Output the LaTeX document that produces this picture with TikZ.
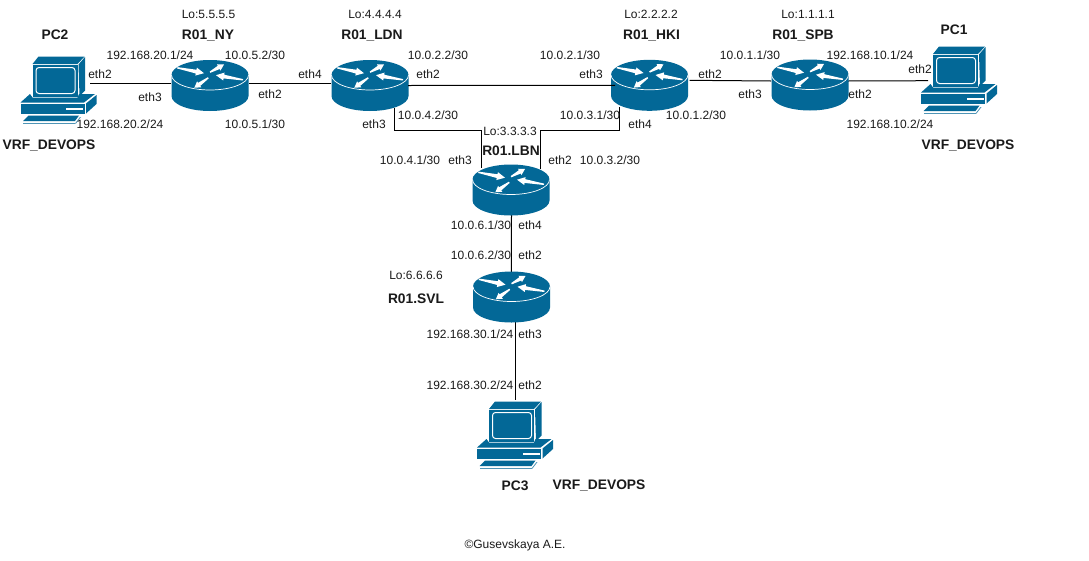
\documentclass[tikz,border=0pt]{standalone}
\usepackage{fontspec}
\setmainfont{Liberation Sans}
\usetikzlibrary{calc}
\definecolor{cisco}{HTML}{036897}
\definecolor{txt}{HTML}{1A1A1A}
\newcommand{\rarr}[6]{%
  \coordinate (A) at (#1,#2);
  \coordinate (B) at (#3,#4);
  \coordinate (M) at ($(B)!#5pt!(A)$);
  \fill[white] ($(A)!.7pt!90:(B)$) -- ($(M)!1.9pt!90:(B)$) -- ($(M)!#6pt!90:(B)$) -- (B) -- ($(M)!#6pt!-90:(B)$) -- ($(M)!1.9pt!-90:(B)$) -- ($(A)!.7pt!-90:(B)$) -- cycle;
}
\tikzset{
  lbl/.style={inner sep=0pt,text=txt,font=\fontsize{12}{14}\selectfont},
  blbl/.style={inner sep=0pt,text=txt,font=\fontsize{13.8}{15}\selectfont\bfseries},
  link/.style={draw=black,line width=1pt},
  routerbox/.style={inner sep=0pt,minimum width=77pt,minimum height=51pt},
  pcbox/.style={inner sep=0pt,minimum width=77pt,minimum height=70pt},
  router/.pic={
    \fill[cisco] (-38.5,-10.5) -- (-38.5,10.5) arc[start angle=180,end angle=360,x radius=38.5pt,y radius=15pt] -- (38.5,-10.5) arc[start angle=0,end angle=180,x radius=38.5pt,y radius=15pt] -- cycle;
    \draw[white,line width=.7pt] (-38.5,-10.5) arc[start angle=180,end angle=360,x radius=38.5pt,y radius=15pt];
    \rarr{-32.7}{-17.7}{-6}{-12.3}{8}{4}
    \rarr{33}{-5.7}{6}{-10.3}{8}{4}
    \rarr{0}{-13.3}{14}{-21}{6}{3.6}
    \rarr{-1.7}{-7.7}{-15.7}{2.3}{6}{3.6}
  },
  pc/.pic={
    % monitor
    \fill[cisco] (-26.5,-26) -- (-20.5,-33.5) -- (25.5,-33.5) -- (18.5,-26) -- cycle;
    \fill[cisco] (19.5,-25.5) -- (26,-33) -- (26,0.5) -- (20.5,6) -- cycle;
    \fill[cisco] (-26.5,-25) rectangle (18.5,6.5);
    \draw[white,line width=1pt,rounded corners=3pt] (-23,-22.5) rectangle (16,3.5);
    % base
    \fill[cisco] (-38.5,12.5) -- (-29,4) -- (-26.5,7.5) -- (18.5,7.5) -- (20,4) -- (36,4) -- (25,12.5) -- cycle;
    \fill[cisco] (-38.5,14) rectangle (25.5,23.5);
    \fill[cisco] (27,13.5) -- (37.5,5) -- (37.5,14) -- (27,23.5) -- cycle;
    \fill[white] (7,18) rectangle (24,20);
    % keyboard
    \fill[cisco] (-30.5,25.5) -- (20,25.5) -- (16,31) -- (-36,31) -- cycle;
    \fill[cisco!70] (-36,32.5) rectangle (16,33.5);
    \fill[cisco!70] (16,33.5) -- (21,27) -- (22,27) -- (17,33.5) -- cycle;
  }
}
\begin{document}
\begin{tikzpicture}[x=1pt,y=-1pt]
\useasboundingbox[fill=white] (0,0) rectangle (1089,560);
% device nodes
\node[routerbox] (ny) at (210,85.5) {};
\node[routerbox] (ldn) at (370,85.5) {};
\node[routerbox] (hki) at (649.5,85.3) {};
\node[routerbox] (spb) at (810,85) {};
\node[routerbox] (lbn) at (511,190) {};
\node[routerbox] (svl) at (511.5,297) {};
\node[pcbox] (pc2) at (59,90) {};
\node[pcbox] (pc1) at (959.5,80) {};
\node[pcbox] (pc3) at (515.5,435) {};
% connectors under the devices
\draw[link] ($(pc2)+(31,-7)$) -- ($(ny)+(-39,-2.5)$);
\draw[link] ($(ny)+(39,-2.5)$) -- ($(ldn)+(-39,-2.5)$);
\draw[link] ($(hki)+(40,-5)$) -- ($(spb)+(-39,-4)$);
\draw[link] ($(spb)+(38,-4)$) -- ($(pc1)+(-31.5,.7)$);
\draw[link] ($(ldn)+(24,22)$) |- ($(lbn)+(-30,-60)$) -- ($(lbn)+(-30,-22)$);
\draw[link] ($(hki)+(-30,22)$) |- ($(lbn)+(29,-60)$) -- ($(lbn)+(29,-21)$);
\draw[link] ($(lbn)+(.5,25)$) -- ($(svl)+(-.2,-25)$);
\draw[link] ($(svl)+(4.2,25)$) -- ($(pc3)+(.2,-35)$);
% device drawings
\pic at (ny) {router};
\pic at (ldn) {router};
\pic at (hki) {router};
\pic at (spb) {router};
\pic at (lbn) {router};
\pic at (svl) {router};
\pic at (pc2) {pc};
\pic at (pc1) {pc};
\pic at (pc3) {pc};
% this link runs over the edge of R01_HKI
\draw[link] ($(ldn)+(38,0)$) -- ($(hki)+(-34.5,0)$);
% labels
\node[lbl] (t1) at (208.5,14) {Lo:5.5.5.5};
\node[blbl] (t2) at (208,36) {R01\_NY};
\node[blbl] (t3) at (55,35) {PC2};
\node[lbl] (t4) at (150,55) {192.168.20.1/24};
\node[lbl] (t5) at (255,55) {10.0.5.2/30};
\node[lbl] (t6) at (100,74) {eth2};
\node[lbl] (t7) at (150,97) {eth3};
\node[lbl] (t8) at (270,94) {eth2};
\node[lbl] (t9) at (120,124) {192.168.20.2/24};
\node[lbl] (t10) at (255,124) {10.0.5.1/30};
\node[blbl] (t11) at (49,146) {VRF\_DEVOPS};
\node[lbl] (t12) at (375,14) {Lo:4.4.4.4};
\node[blbl] (t13) at (372,36) {R01\_LDN};
\node[lbl] (t14) at (310,74) {eth4};
\node[lbl] (t15) at (438,55) {10.0.2.2/30};
\node[lbl] (t16) at (428,74) {eth2};
\node[lbl] (t17) at (374,124) {eth3};
\node[lbl] (t18) at (428,115) {10.0.4.2/30};
\node[lbl] (t19) at (510,131) {Lo:3.3.3.3};
\node[blbl] (t20) at (511,151) {R01.LBN};
\node[lbl] (t21) at (410,160) {10.0.4.1/30};
\node[lbl] (t22) at (460,160) {eth3};
\node[lbl] (t23) at (560,160) {eth2};
\node[lbl] (t24) at (610,160) {10.0.3.2/30};
\node[lbl] (t25) at (590,115) {10.0.3.1/30};
\node[lbl] (t26) at (640,124) {eth4};
\node[lbl] (t27) at (696,115) {10.0.1.2/30};
\node[lbl] (t28) at (570,55) {10.0.2.1/30};
\node[lbl] (t29) at (591,74) {eth3};
\node[lbl] (t30) at (651,14) {Lo:2.2.2.2};
\node[blbl] (t31) at (651.5,36) {R01\_HKI};
\node[lbl] (t32) at (710,74) {eth2};
\node[lbl] (t33) at (750,55) {10.0.1.1/30};
\node[lbl] (t34) at (750,94) {eth3};
\node[lbl] (t35) at (808,14) {Lo:1.1.1.1};
\node[blbl] (t36) at (803,36) {R01\_SPB};
\node[lbl] (t37) at (870,55) {192.168.10.1/24};
\node[lbl] (t38) at (920,69) {eth2};
\node[lbl] (t39) at (860,94) {eth2};
\node[lbl] (t40) at (890,124) {192.168.10.2/24};
\node[blbl] (t41) at (954,30) {PC1};
\node[blbl] (t42) at (968,146) {VRF\_DEVOPS};
\node[lbl] (t43) at (481,225) {10.0.6.1/30};
\node[lbl] (t44) at (530,225) {eth4};
\node[lbl] (t45) at (481,255) {10.0.6.2/30};
\node[lbl] (t46) at (530,255) {eth2};
\node[lbl] (t47) at (416,275) {Lo:6.6.6.6};
\node[blbl] (t48) at (416,299) {R01.SVL};
\node[lbl] (t49) at (470,334) {192.168.30.1/24};
\node[lbl] (t50) at (530,334) {eth3};
\node[lbl] (t51) at (470,385) {192.168.30.2/24};
\node[lbl] (t52) at (530,385) {eth2};
\node[blbl] (t53) at (515,486) {PC3};
\node[blbl] (t54) at (599,486) {VRF\_DEVOPS};
\node[lbl] (t55) at (515,545) {©Gusevskaya A.E.};
\end{tikzpicture}
\end{document}
